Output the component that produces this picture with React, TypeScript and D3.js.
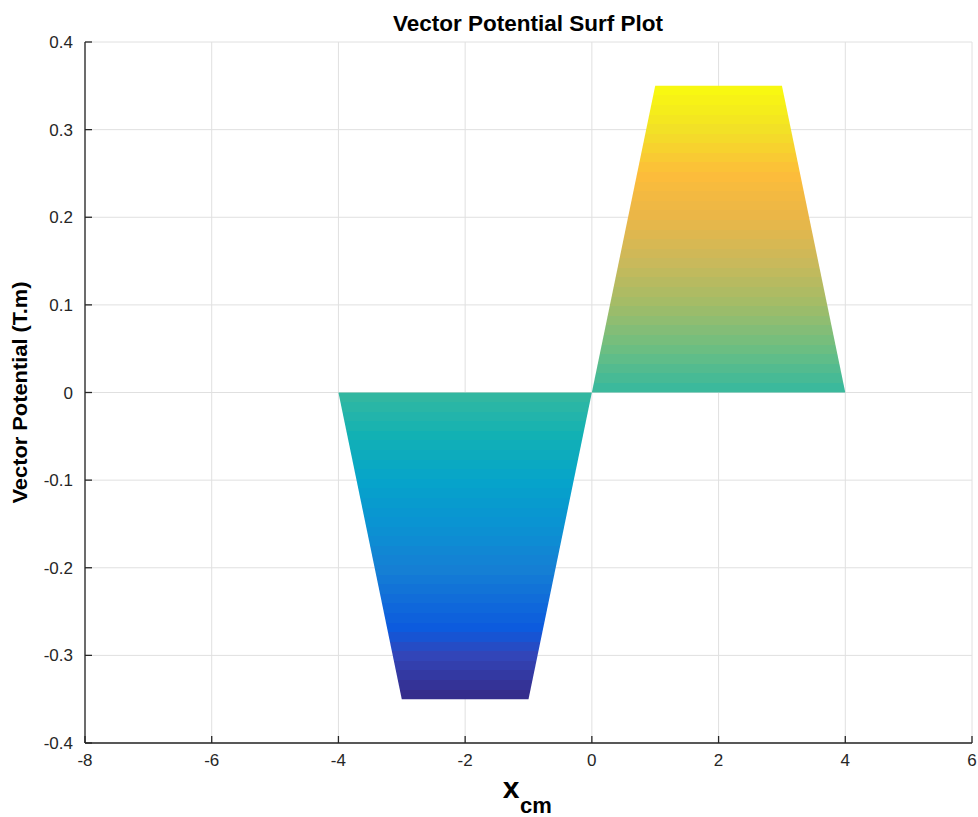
import React from "react";
import * as d3 from "d3";

const xValues = [-4, -3, -1, 0, 1, 3, 4];
const yValues = [0, -0.35, -0.35, 0, 0.35, 0.35, 0];
const xTicks = [-8, -6, -4, -2, 0, 2, 4, 6];
const yTicks = [-0.4, -0.3, -0.2, -0.1, 0, 0.1, 0.2, 0.3, 0.4];
const yTickLabels = ["-0.4", "-0.3", "-0.2", "-0.1", "0", "0.1", "0.2", "0.3", "0.4"];
const cmapPos = [0, 0.071, 0.114, 0.214, 0.286, 0.357, 0.429, 0.5, 0.571, 0.643, 0.714, 0.786, 0.857, 0.929, 1];
const cmapColors = ["#352a87", "#3245b8", "#0c5ade", "#1580d4", "#0a93d2", "#06a4ca", "#12b1b4", "#35b89f", "#6cbe82", "#a2bc67", "#cbb95a", "#eab648", "#fdbd3a", "#f2e126", "#f9fb0e"];

const W = 978, H = 817;
const L = 85, R = 972, T = 42, B = 743;

export default function App() {
  const x = d3.scaleLinear().domain([-8, 6]).range([L, R]);
  const y = d3.scaleLinear().domain([-0.4, 0.4]).range([B, T]);
  const cmap = d3.scaleLinear<string>().domain(cmapPos).range(cmapColors).interpolate(d3.interpolateRgb);
  const cmin = d3.min(yValues)!, cmax = d3.max(yValues)!;
  const nBands = 64;
  const stops: { off: number; c: string }[] = [];
  for (let i = 0; i < nBands; i++) {
    const c = cmap((i + 0.5) / nBands);
    stops.push({ off: i / nBands, c });
    stops.push({ off: (i + 1) / nBands, c });
  }
  const pts = xValues.map((v, i) => [x(v), y(yValues[i])] as [number, number]);
  const lower = [pts[0], pts[1], pts[2], pts[3]];
  const upper = [pts[3], pts[4], pts[5], pts[6]];
  const line = d3.line();
  const axisColor = "#262626";
  const font = "'Liberation Sans', Arial, Helvetica, sans-serif";
  return (
    <svg width={W} height={H} style={{ position: "absolute", left: 0, top: 0, background: "#fff" }} fontFamily={font}>
      <defs>
        <linearGradient id="parula" gradientUnits="userSpaceOnUse" x1={0} x2={0} y1={y(cmin)} y2={y(cmax)}>
          {stops.map((s, i) => (
            <stop key={i} offset={s.off} stopColor={s.c} />
          ))}
        </linearGradient>
      </defs>
      <rect x={0} y={0} width={W} height={H} fill="#fff" />
      {/* grid */}
      {xTicks.map((t) => (
        <line key={"gx" + t} x1={x(t)} x2={x(t)} y1={T} y2={B} stroke="#e0e0e0" strokeWidth={1} />
      ))}
      {yTicks.map((t) => (
        <line key={"gy" + t} x1={L} x2={R} y1={y(t)} y2={y(t)} stroke="#e0e0e0" strokeWidth={1} />
      ))}
      {/* surface */}
      <path d={line(lower)! + "Z"} fill="url(#parula)" />
      <path d={line(upper)! + "Z"} fill="url(#parula)" />
      {/* axes */}
      <line x1={L} x2={L} y1={T} y2={B} stroke={axisColor} strokeWidth={1.3} />
      <line x1={L} x2={R} y1={B} y2={B} stroke={axisColor} strokeWidth={1.3} />
      {xTicks.map((t) => (
        <g key={"tx" + t}>
          <line x1={x(t)} x2={x(t)} y1={B} y2={B - 7} stroke={axisColor} strokeWidth={1.3} />
          <text x={x(t)} y={B + 23} textAnchor="middle" fontSize={17} fill={axisColor}>
            {String(t)}
          </text>
        </g>
      ))}
      {yTicks.map((t, i) => (
        <g key={"ty" + t}>
          <line x1={L} x2={L + 7} y1={y(t)} y2={y(t)} stroke={axisColor} strokeWidth={1.3} />
          <text x={L - 12} y={y(t) + 6} textAnchor="end" fontSize={17} fill={axisColor}>
            {yTickLabels[i]}
          </text>
        </g>
      ))}
      {/* title */}
      <text x={528} y={31} textAnchor="middle" fontSize={22} fontWeight="bold" fill="#000" textLength={270} lengthAdjust="spacingAndGlyphs">
        Vector Potential Surf Plot
      </text>
      {/* x label */}
      <text x={511} y={798} textAnchor="middle" fontSize={30} fontWeight="bold" fill="#000">
        x
      </text>
      <text x={520} y={813} textAnchor="start" fontSize={22} fontWeight="bold" fill="#000">
        cm
      </text>
      {/* y label */}
      <text transform={`translate(27, ${y(0.0)}) rotate(-90)`} textAnchor="middle" fontSize={21} fontWeight="bold" fill="#000" textLength={222} lengthAdjust="spacingAndGlyphs">
        Vector Potential (T.m)
      </text>
    </svg>
  );
}
